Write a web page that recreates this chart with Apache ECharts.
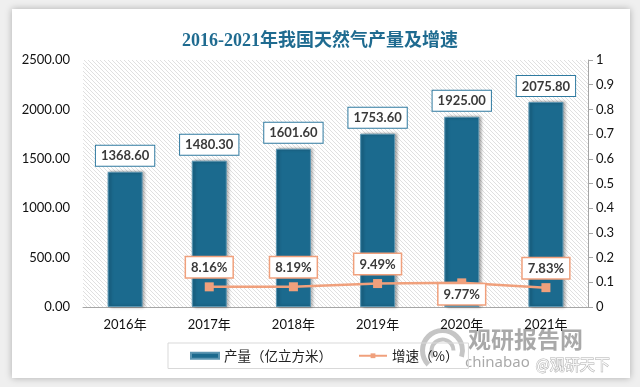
<!DOCTYPE html>
<html><head><meta charset="utf-8">
<script src="https://cdn.jsdelivr.net/npm/echarts@6/dist/echarts.min.js"></script>
<style>
html,body{margin:0;padding:0;width:640px;height:387px;background:#efefef;overflow:hidden;}
#card{position:absolute;left:12px;top:9px;width:618px;height:369px;background:#fff;box-shadow:0 0 7px rgba(0,0,0,0.28);}
#main{position:absolute;left:0;top:0;width:640px;height:387px;}
</style></head>
<body><div id="card"></div><div id="main"></div>
<script>
const categories = ['2016年','2017年','2018年','2019年','2020年','2021年'];
const output = [1368.60, 1480.30, 1601.60, 1753.60, 1925.00, 2075.80];
const growthPct = [null, 8.16, 8.19, 9.49, 9.77, 7.83];
const leftTicks = [0, 500, 1000, 1500, 2000, 2500];
const rightTicks = [0,0.1,0.2,0.3,0.4,0.5,0.6,0.7,0.8,0.9,1];

// hatch pattern
const pc = document.createElement('canvas');
pc.width = 4; pc.height = 4;
const g = pc.getContext('2d');
g.fillStyle = '#ffffff'; g.fillRect(0,0,4,4);
g.strokeStyle = '#e0e0e0'; g.lineWidth = 1;
g.beginPath(); g.moveTo(0,0); g.lineTo(4,4); g.stroke();
g.beginPath(); g.moveTo(-1,3); g.lineTo(1,5); g.stroke();
g.beginPath(); g.moveTo(3,-1); g.lineTo(5,1); g.stroke();

const chart = echarts.init(document.getElementById('main'), null, {renderer:'canvas'});
const lineData = growthPct.map((v,i) => v === null ? null : {
  value: v/100,
  label: { position: i === 4 ? 'bottom' : 'top', distance: i === 4 ? -3 : 5 }
});
chart.setOption({
  backgroundColor: 'transparent',
  animation: false,
  title: {
    text: '2016-2021年我国天然气产量及增速',
    left: 'center', top: 27,
    textStyle: { fontFamily: '"Liberation Serif","Noto Sans CJK SC"', fontSize: 18, fontWeight: 'bold', color: '#1f6b90' }
  },
  grid: { left: 83, right: 52, top: 60, bottom: 80, show: true, borderWidth: 0,
    backgroundColor: { image: pc, repeat: 'repeat' } },
  legend: {
    left: 168, top: 343, width: 304, height: 27,
    itemGap: 26, itemWidth: 28, itemHeight: 6,
    padding: [6, 10, 6, 22],
    borderColor: '#d9d9d9', borderWidth: 1,
    textStyle: { fontFamily: '"Noto Sans CJK SC"', fontSize: 13.5, color: '#222' },
    data: [
      { name: '产量（亿立方米）', icon: 'rect' },
      { name: '增速（%）' }
    ]
  },
  xAxis: {
    type: 'category', data: categories,
    axisLine: { show: true, lineStyle: { color: '#a6a6a6', width: 1 } },
    axisTick: { show: false },
    axisLabel: { margin: 11, fontFamily: 'Lato,"Noto Sans CJK SC"', fontSize: 13, color: '#111' }
  },
  yAxis: [
    { type: 'value', min: leftTicks[0], max: leftTicks[leftTicks.length-1], interval: 500,
      splitLine: { show: false }, axisLine: { show: false }, axisTick: { show: false },
      axisLabel: { margin: 13, fontFamily: 'Lato', fontSize: 13, color: '#111', formatter: v => v.toFixed(2) } },
    { type: 'value', min: rightTicks[0], max: rightTicks[rightTicks.length-1], interval: 0.1,
      splitLine: { show: false },
      axisLine: { show: true, lineStyle: { color: '#a6a6a6' } },
      axisTick: { show: true, length: 5, lineStyle: { color: '#a6a6a6' } },
      axisLabel: { margin: 8, fontFamily: 'Lato', fontSize: 13, color: '#111', formatter: v => String(+v.toFixed(1)) } }
  ],
  series: [
    { name: '产量（亿立方米）', type: 'bar', data: output, barWidth: 35,
      itemStyle: { color: '#1b6a8e', borderColor: '#5b95b1', borderWidth: 1,
        shadowColor: 'rgba(0,0,0,0.35)', shadowBlur: 3, shadowOffsetX: 2, shadowOffsetY: 0 },
      label: { show: true, position: 'top', distance: 6,
        formatter: p => p.value.toFixed(2),
        fontFamily: 'Lato', fontSize: 13, fontWeight: 'bold', color: '#3a3a3a',
        backgroundColor: '#fff', borderColor: '#2f7aa0', borderWidth: 1, padding: [4, 5, 3, 5] } },
    { name: '增速（%）', type: 'line', yAxisIndex: 1, data: lineData,
      symbol: 'rect', symbolSize: 9, connectNulls: false,
      lineStyle: { color: '#f0a07c', width: 2.5 },
      itemStyle: { color: '#f0a07c' },
      label: { show: true, formatter: p => (p.value*100).toFixed(2) + '%',
        fontFamily: 'Lato', fontSize: 13, fontWeight: 'bold', color: '#3a3a3a',
        backgroundColor: '#fff', borderColor: '#f0a07c', borderWidth: 1.5, padding: [4, 5, 3, 5] } }
  ],
  graphic: [
    { type: 'group', left: 420, top: 328, silent: true, children: [
      { type: 'arc', shape: { cx: 24, cy: 22, r: 20, startAngle: Math.PI*0.75, endAngle: Math.PI*2.1 }, style: { stroke: 'rgba(150,150,150,0.55)', lineWidth: 5, fill: null } },
      { type: 'arc', shape: { cx: 24, cy: 22, r: 11, startAngle: Math.PI*0.8, endAngle: Math.PI*2.0 }, style: { stroke: 'rgba(150,150,150,0.55)', lineWidth: 4, fill: null } }
    ]},
    { type: 'text', left: 468, top: 328, silent: true,
      style: { text: '观研报告网', font: 'bold 23px "Noto Sans CJK SC"', fill: 'rgba(140,140,140,0.75)' } },
    { type: 'text', left: 465, top: 355, silent: true,
      style: { text: 'chinabao', font: '15px "Noto Sans"', fill: 'rgba(140,140,140,0.75)' } },
    { type: 'text', left: 535, top: 356, silent: true,
      style: { text: '@观研天下', font: '15px "Noto Sans CJK SC"', fill: 'rgba(255,255,255,0.9)', stroke: 'rgba(120,120,120,0.6)', lineWidth: 1 } }
  ]
});
</script></body></html>
